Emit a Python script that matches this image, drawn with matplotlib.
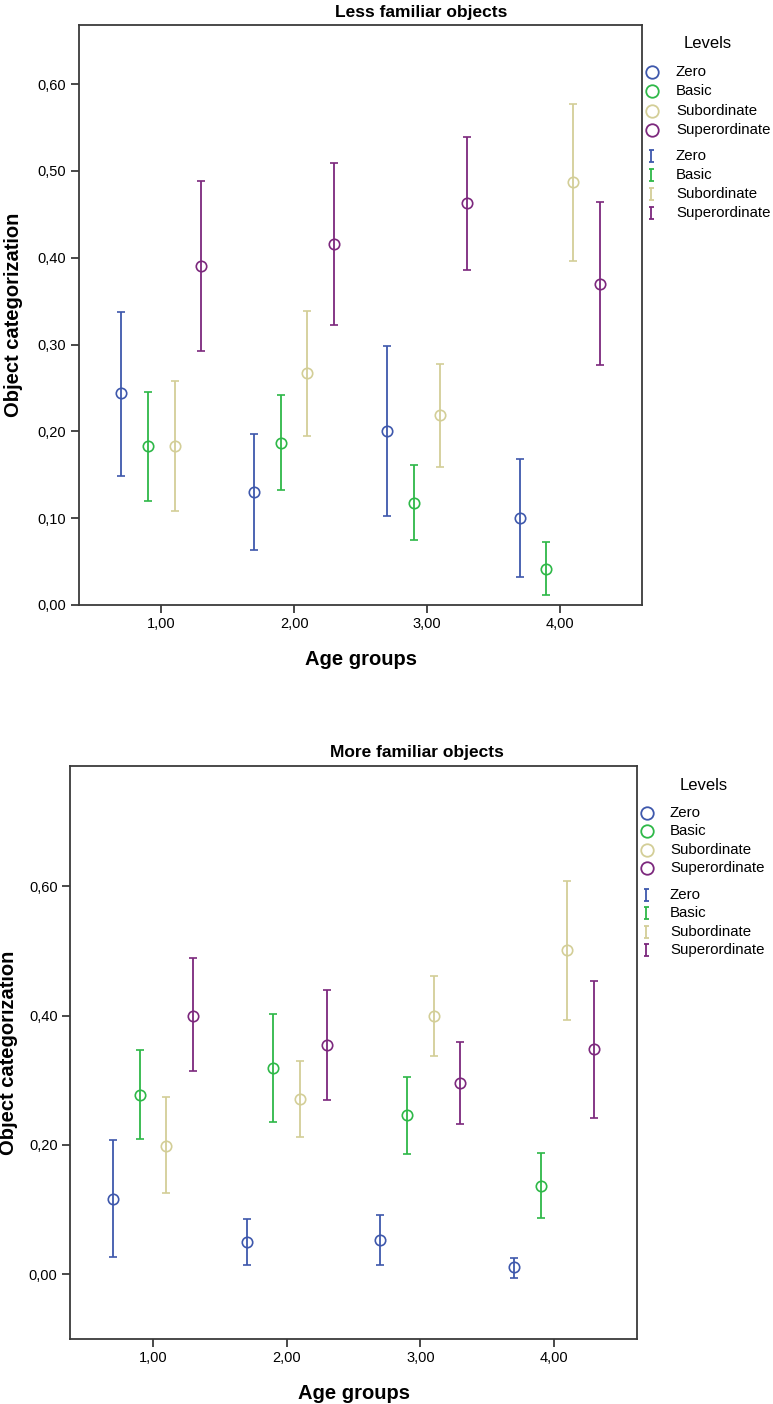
import matplotlib
matplotlib.use("Agg")
import matplotlib.pyplot as plt
from matplotlib.lines import Line2D
from matplotlib.path import Path
from matplotlib.ticker import FuncFormatter
import numpy as np

plt.rcParams["font.family"] = ["Liberation Sans", "DejaVu Sans"]

levels = ["Zero", "Basic", "Subordinate", "Superordinate"]
colors = ["#3E58AC", "#2EB848", "#D3CE97", "#7C287D"]
age_groups = [1, 2, 3, 4]
offsets = [-0.3, -0.1, 0.1, 0.3]

# Less familiar objects: mean and interval ends, one row per level
less_mean = [[0.244, 0.130, 0.200, 0.100],
             [0.183, 0.187, 0.118, 0.042],
             [0.183, 0.267, 0.219, 0.487],
             [0.391, 0.416, 0.463, 0.370]]
less_low = [[0.149, 0.063, 0.103, 0.032],
            [0.120, 0.132, 0.075, 0.012],
            [0.108, 0.195, 0.159, 0.396],
            [0.293, 0.323, 0.386, 0.276]]
less_high = [[0.338, 0.197, 0.298, 0.168],
             [0.245, 0.242, 0.161, 0.072],
             [0.258, 0.339, 0.278, 0.577],
             [0.488, 0.509, 0.539, 0.464]]

# More familiar objects
more_mean = [[0.117, 0.050, 0.053, 0.011],
             [0.278, 0.319, 0.246, 0.137],
             [0.199, 0.271, 0.400, 0.501],
             [0.399, 0.354, 0.296, 0.348]]
more_low = [[0.027, 0.015, 0.014, -0.006],
            [0.210, 0.236, 0.186, 0.087],
            [0.125, 0.213, 0.337, 0.393],
            [0.314, 0.269, 0.232, 0.242]]
more_high = [[0.208, 0.085, 0.092, 0.026],
             [0.347, 0.402, 0.305, 0.187],
             [0.274, 0.330, 0.462, 0.608],
             [0.489, 0.439, 0.360, 0.454]]

W, H = 773, 1404
fig = plt.figure(figsize=(W / 100, H / 100), dpi=100)

# small I-beam glyph for the error bar key
ibeam = Path([(-0.45, 1), (0.45, 1), (0, 1), (0, -1), (-0.45, -1), (0.45, -1)],
             [Path.MOVETO, Path.LINETO, Path.MOVETO, Path.LINETO,
              Path.MOVETO, Path.LINETO])


def comma(v, pos):
    return f"{v:.2f}".replace(".", ",")


def fx(px):
    return px / W


def fy(py):
    return 1 - py / H


def key(mark_x, text_x, title_xy, rows_c, rows_b):
    fig.text(fx(title_xy[0]), fy(title_xy[1]), "Levels", fontsize=12,
             ha="center", va="center")
    for i, lab in enumerate(levels):
        fig.add_artist(Line2D([fx(mark_x)], [fy(rows_c[i])],
                              transform=fig.transFigure, ls="none",
                              marker="o", ms=9, mfc="none", mec=colors[i],
                              mew=1.3))
        fig.text(fx(text_x), fy(rows_c[i]), lab, fontsize=10.8, va="center")
        fig.add_artist(Line2D([fx(mark_x - 1)], [fy(rows_b[i])],
                              transform=fig.transFigure, ls="none",
                              marker=ibeam, ms=8, mfc="none", mec=colors[i],
                              mew=1.3))
        fig.text(fx(text_x), fy(rows_b[i]), lab, fontsize=10.8, va="center")


def panel(rect, title, title_xy, mean, low, high, ylim, yticks, ylab_x):
    ax = fig.add_axes([fx(rect[0]), fy(rect[3]),
                       (rect[2] - rect[0]) / W, (rect[3] - rect[1]) / H])
    for i in range(len(levels)):
        x = np.array(age_groups) + offsets[i]
        m = np.array(mean[i])
        err = [m - np.array(low[i]), np.array(high[i]) - m]
        ax.errorbar(x, m, yerr=err, fmt="o", mfc="none", mec=colors[i],
                    ms=7.5, mew=1.2, ecolor=colors[i], elinewidth=1.3,
                    capsize=2.6, capthick=1.3)
    ax.set_xlim(0.38, 4.62)
    ax.set_ylim(*ylim)
    ax.set_xticks(age_groups)
    ax.set_yticks(yticks)
    ax.xaxis.set_major_formatter(FuncFormatter(comma))
    ax.yaxis.set_major_formatter(FuncFormatter(comma))
    for s in ax.spines.values():
        s.set_color("#3a3a3a")
        s.set_linewidth(1.3)
    ax.tick_params(length=6, width=1.3, color="#3a3a3a", labelsize=10.5,
                   pad=3)
    ax.set_xlabel("Age groups", fontsize=14.5, fontweight="bold", labelpad=13.5)
    ax.set_ylabel("Object categorization", fontsize=14.5, fontweight="bold")
    ax.yaxis.set_label_coords(ylab_x, 0.5)
    fig.text(fx(title_xy[0]), fy(title_xy[1]), title, fontsize=12.5,
             fontweight="bold", ha="center", va="center")
    return ax


panel((79, 25, 642, 605), "Less familiar objects", (421, 12),
      less_mean, less_low, less_high, (0, 0.668),
      [0, 0.1, 0.2, 0.3, 0.4, 0.5, 0.6], -0.1)
key(652, 676, (708, 44), [72, 91, 111, 130], [156, 175, 194, 213])

panel((70, 766, 637, 1339), "More familiar objects", (417, 752),
      more_mean, more_low, more_high, (-0.1, 0.786),
      [0, 0.2, 0.4, 0.6], -0.092)
key(647, 670, (704, 785), [813, 831, 850, 868], [895, 913, 932, 950])

fig.savefig("out.png", dpi=100)
